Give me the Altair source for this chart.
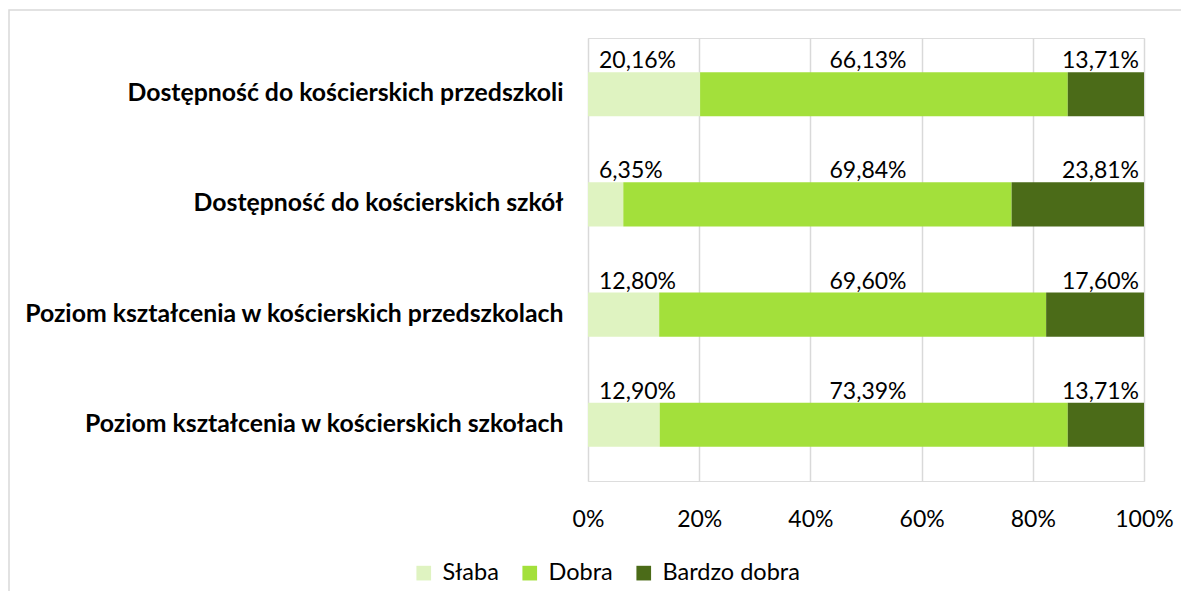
import altair as alt
import pandas as pd

categories = [
    "Dostępność do kościerskich przedszkoli",
    "Dostępność do kościerskich szkół",
    "Poziom kształcenia w kościerskich przedszkolach",
    "Poziom kształcenia w kościerskich szkołach",
]
series = ["Słaba", "Dobra", "Bardzo dobra"]
slaba = [20.16, 6.35, 12.80, 12.90]
dobra = [66.13, 69.84, 69.60, 73.39]
bardzo = [13.71, 23.81, 17.60, 13.71]
colors = ["#DFF3C1", "#A3E03B", "#4B6B18"]
x_ticks = [0, 20, 40, 60, 80, 100]

rows = []
for i, c in enumerate(categories):
    vals = [slaba[i], dobra[i], bardzo[i]]
    total = sum(vals)
    start = 0.0
    for k, (s, v) in enumerate(zip(series, vals)):
        p = v / total * 100
        rows.append({
            "cat": c, "series": s, "rank": k, "value": v,
            "x0": start, "x1": start + p,
            "label": f"{v:.2f}%".replace(".", ","),
        })
        start += p
df = pd.DataFrame(rows)

FONT = "Lato"
FS = 23

y_enc = alt.Y("cat:N", sort=categories, title=None,
              scale=alt.Scale(paddingInner=0.6, paddingOuter=0.31),
              axis=alt.Axis(labelFont=FONT, labelFontWeight="bold", labelFontSize=24.8,
                            labelColor="#000000", labelPadding=25, labelLimit=700,
                            ticks=False, domain=False, grid=False))

bars = alt.Chart(df).mark_bar().encode(
    x=alt.X("x0:Q", title=None,
            scale=alt.Scale(domain=[0, 100], nice=False),
            axis=alt.Axis(values=x_ticks, labelExpr="datum.value + '%'",
                          labelFont=FONT, labelFontSize=FS, labelColor="#000000",
                          labelPadding=27, labelFlush=False, ticks=False, domain=False,
                          grid=True, gridColor="#D9D9D9", gridWidth=1.5)),
    x2="x1:Q",
    y=y_enc,
    color=alt.Color("series:N", sort=series,
                    scale=alt.Scale(domain=series, range=colors),
                    legend=alt.Legend(title=None, orient="none", direction="horizontal",
                                      legendX=-176, legendY=523,
                                      symbolType="square", symbolSize=215,
                                      symbolStrokeWidth=0, labelFont=FONT,
                                      labelFontSize=23.5, labelColor="#000000",
                                      columnPadding=19, labelOffset=7)),
    order="rank:Q",
)

def text_layer(sname, align, field, dx):
    return alt.Chart(df).transform_filter(alt.datum.series == sname).mark_text(
        align=align, baseline="alphabetic", dy=-26, dx=dx, font=FONT, fontSize=FS, color="#000000"
    ).encode(
        x=alt.X(f"{field}:Q"),
        y=alt.Y("cat:N", sort=categories),
        text="label:N",
    )

labels_slaba = text_layer("Słaba", "left", "x0", 11)
labels_bardzo = text_layer("Bardzo dobra", "right", "x1", -5)
labels_dobra = alt.Chart(df).transform_filter(alt.datum.series == "Dobra").transform_calculate(
    mid="50"
).mark_text(align="center", baseline="alphabetic", dy=-26, dx=2, font=FONT, fontSize=FS, color="#000000").encode(
    x=alt.X("mid:Q"),
    y=alt.Y("cat:N", sort=categories),
    text="label:N",
)

frame = alt.Chart(pd.DataFrame({"a": [0]})).mark_rect(
    fillOpacity=0, stroke="#D9D9D9", strokeWidth=1.5
).encode(
    x=alt.value(-579), x2=alt.value(620), y=alt.value(-28), y2=alt.value(590)
)

chart = alt.layer(frame, bars, labels_slaba, labels_dobra, labels_bardzo).properties(
    width=556, height=443,
    autosize=alt.AutoSizeParams(type="none"),
    padding={"left": 580, "top": 30, "right": 37, "bottom": 110},
).configure_view(stroke=None).configure(background="#FFFFFF")

chart.save("out.html", embed_options={"renderer": "svg", "actions": False})
